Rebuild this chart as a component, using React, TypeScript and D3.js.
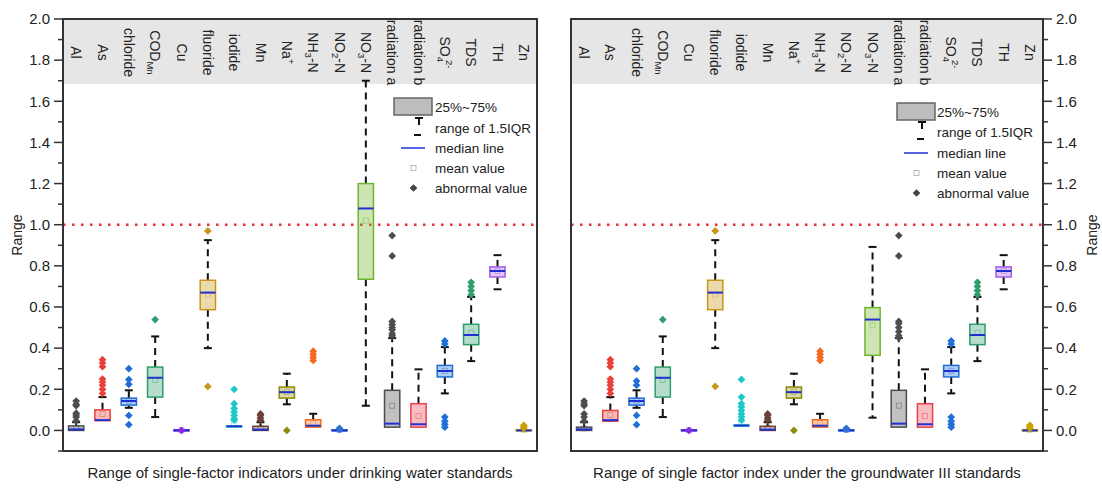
import React from 'react';
import * as d3 from 'd3';

const categories = ['Al', 'As', 'chloride', 'COD_{Mn}', 'Cu', 'fluoride', 'iodide', 'Mn', 'Na^{+}', 'NH_{3}-N', 'NO_{2}-N', 'NO_{3}-N', 'radiation a', 'radiation b', 'SO_{4}^{2-}', 'TDS', 'TH', 'Zn'];
const seriesColors = ['#4d4d4d', '#e8413c', '#1f6fd6', '#2e9e6a', '#8a2be2', '#c9951a', '#1cc8c8', '#6b4038', '#8c8c0a', '#f26b1d', '#2f6fd0', '#6fb52c', '#4d4d4d', '#e8414f', '#1f6fd6', '#2e9e6a', '#a45ee5', '#c9a000'];
const majorTicks = [0, 0.2, 0.4, 0.6, 0.8, 1.0, 1.2, 1.4, 1.6, 1.8, 2.0];
const minorTicks = [-0.1, 0.1, 0.3, 0.5, 0.7, 0.9, 1.1, 1.3, 1.5, 1.7, 1.9];
const legendLabels = ['25%~75%', 'range of 1.5IQR', 'median line', 'mean value', 'abnormal value'];

// Drinking water standards (left panel)
const drinkQ1 = [0.0, 0.048, 0.123, 0.162, 0.0, 0.587, 0.019, 0.0, 0.157, 0.016, 0.0, 0.735, 0.016, 0.016, 0.26, 0.417, 0.746, 0.0];
const drinkMedian = [0.005, 0.05, 0.143, 0.256, 0.0, 0.67, 0.02, 0.004, 0.186, 0.023, 0.0, 1.079, 0.033, 0.03, 0.289, 0.464, 0.775, 0.0];
const drinkQ3 = [0.022, 0.1, 0.157, 0.308, 0.003, 0.73, 0.022, 0.02, 0.211, 0.052, 0.003, 1.2, 0.195, 0.13, 0.316, 0.516, 0.795, 0.003];
const drinkMean = [0.012, 0.08, 0.145, 0.245, 0.001, 0.66, 0.03, 0.012, 0.188, 0.035, 0.002, 1.02, 0.12, 0.07, 0.29, 0.475, 0.775, 0.002];
const drinkWhiskerLow = [0.0, 0.048, 0.11, 0.065, 0.0, 0.4, 0.019, 0.0, 0.127, 0.016, 0.0, 0.12, 0.016, 0.016, 0.18, 0.337, 0.686, 0.0];
const drinkWhiskerHigh = [0.04, 0.162, 0.195, 0.457, 0.003, 0.925, 0.022, 0.04, 0.276, 0.081, 0.003, 1.7, 0.449, 0.297, 0.405, 0.649, 0.852, 0.003];
const drinkOutliers = [
  [0.046, 0.065, 0.075, 0.084, 0.12, 0.127, 0.143],
  [0.18, 0.2, 0.22, 0.235, 0.25, 0.31, 0.328, 0.344],
  [0.028, 0.073, 0.224, 0.247, 0.3],
  [0.539],
  [0.0],
  [0.214, 0.97],
  [0.05, 0.057, 0.073, 0.09, 0.107, 0.13, 0.2],
  [0.05, 0.06, 0.073, 0.08],
  [0.0],
  [0.34, 0.355, 0.37, 0.385],
  [0.005, 0.01],
  [],
  [0.46, 0.47, 0.49, 0.5, 0.515, 0.53, 0.848, 0.947],
  [],
  [0.016, 0.03, 0.045, 0.065, 0.42, 0.435],
  [0.66, 0.68, 0.7, 0.72],
  [],
  [0.01, 0.018, 0.025],
];

// Groundwater III standards (right panel)
const gwQ1 = [0.0, 0.045, 0.123, 0.162, 0.0, 0.587, 0.022, 0.0, 0.157, 0.016, 0.0, 0.365, 0.016, 0.016, 0.26, 0.417, 0.746, 0.0];
const gwMedian = [0.005, 0.05, 0.143, 0.256, 0.0, 0.67, 0.024, 0.004, 0.186, 0.023, 0.0, 0.539, 0.033, 0.03, 0.289, 0.464, 0.775, 0.0];
const gwQ3 = [0.016, 0.097, 0.157, 0.308, 0.003, 0.73, 0.026, 0.02, 0.211, 0.052, 0.003, 0.597, 0.195, 0.13, 0.316, 0.516, 0.795, 0.003];
const gwMean = [0.01, 0.075, 0.145, 0.245, 0.001, 0.66, 0.035, 0.012, 0.188, 0.035, 0.002, 0.511, 0.12, 0.07, 0.29, 0.475, 0.775, 0.002];
const gwWhiskerLow = [0.0, 0.045, 0.11, 0.065, 0.0, 0.4, 0.022, 0.0, 0.127, 0.016, 0.0, 0.062, 0.016, 0.016, 0.18, 0.337, 0.686, 0.0];
const gwWhiskerHigh = [0.04, 0.162, 0.195, 0.457, 0.003, 0.925, 0.026, 0.04, 0.276, 0.081, 0.003, 0.892, 0.449, 0.297, 0.405, 0.649, 0.852, 0.003];
const gwOutliers = [
  [0.045, 0.065, 0.08, 0.12, 0.13, 0.143],
  [0.18, 0.2, 0.22, 0.235, 0.25, 0.31, 0.328, 0.344],
  [0.028, 0.073, 0.22, 0.24, 0.3],
  [0.539],
  [0.0],
  [0.214, 0.97],
  [0.05, 0.065, 0.08, 0.097, 0.115, 0.13, 0.162, 0.248],
  [0.05, 0.06, 0.073, 0.08],
  [0.0],
  [0.34, 0.355, 0.37, 0.385],
  [0.005, 0.01],
  [],
  [0.45, 0.46, 0.48, 0.5, 0.52, 0.53, 0.848, 0.947],
  [],
  [0.016, 0.03, 0.045, 0.065, 0.42, 0.435],
  [0.66, 0.68, 0.7, 0.72],
  [],
  [0.01, 0.018, 0.025],
];

const FONT = 'Liberation Sans, Arial, sans-serif';
const TOP = 19;
const BOTTOM = 451;

function renderLabel(label: string) {
  const parts = label.split(/(_\{[^}]*\}|\^\{[^}]*\})/).filter((p) => p.length > 0);
  const out: any[] = [];
  let shift = 0;
  parts.forEach((p, i) => {
    if (p.startsWith('_{')) {
      out.push(<tspan key={i} dy={4 - shift} fontSize={9.5}>{p.slice(2, -1)}</tspan>);
      shift = 4;
    } else if (p.startsWith('^{')) {
      const prevSub = i > 0 && parts[i - 1].startsWith('_{');
      out.push(<tspan key={i} dy={-5 - shift} dx={prevSub ? -2 : 0} fontSize={9.5}>{p.slice(2, -1)}</tspan>);
      shift = -5;
    } else {
      out.push(<tspan key={i} dy={-shift}>{p}</tspan>);
      shift = 0;
    }
  });
  return out;
}

function Panel(props: any) {
  const { left, right, q1, med, q3, mean, wLo, wHi, outliers, axisSide, title, legendX, legendTextX, legendRows } = props;
  const y = d3.scaleLinear().domain([-0.1, 2.0]).range([BOTTOM, TOP]);
  const x = d3.scaleBand().domain(categories).range([left, right]).padding(0);
  const bw = x.bandwidth();
  const boxW = bw * 0.58;
  const headerBottom = y(1.684);
  const diamond = d3.symbol().type(d3.symbolSquare).size(30)();
  const axisX = axisSide === 'left' ? left : right;
  const dir = axisSide === 'left' ? -1 : 1;

  return (
    <g>
      <rect x={left} y={TOP} width={right - left} height={headerBottom - TOP} fill="#e6e6e6" />
      {categories.map((c) => (
        <text key={c} transform={`translate(${(x(c) as number) + bw / 2},${(TOP + headerBottom) / 2 + 1}) rotate(90)`}
          textAnchor="middle" dominantBaseline="central" fontSize={14} fontFamily={FONT} fill="#222">
          {renderLabel(c)}
        </text>
      ))}
      <line x1={left} x2={right} y1={y(1.0)} y2={y(1.0)} stroke="#e8312f" strokeWidth={2.5} strokeDasharray="2.5,6.5" />
      {categories.map((c, i) => {
        const cx = (x(c) as number) + bw / 2;
        const col = seriesColors[i];
        return (
          <g key={c}>
            {wHi[i] - q3[i] > 0.004 && (
              <g>
                <line x1={cx} x2={cx} y1={y(q3[i])} y2={y(wHi[i])} stroke="#111" strokeWidth={2} strokeDasharray="7,5" />
                <line x1={cx - 4} x2={cx + 4} y1={y(wHi[i])} y2={y(wHi[i])} stroke="#111" strokeWidth={2} />
              </g>
            )}
            {q1[i] - wLo[i] > 0.004 && (
              <g>
                <line x1={cx} x2={cx} y1={y(q1[i])} y2={y(wLo[i])} stroke="#111" strokeWidth={2} strokeDasharray="7,5" />
                <line x1={cx - 4} x2={cx + 4} y1={y(wLo[i])} y2={y(wLo[i])} stroke="#111" strokeWidth={2} />
              </g>
            )}
            <rect x={cx - boxW / 2} y={y(q3[i])} width={boxW} height={Math.max(y(q1[i]) - y(q3[i]), 1)}
              fill={col} fillOpacity={0.35} stroke={col} strokeWidth={1.5} />
            <rect x={cx - 2.5} y={y(mean[i]) - 2.5} width={5} height={5} fill="none" stroke={col} strokeOpacity={0.5} strokeWidth={0.8} />
            <line x1={cx - boxW / 2} x2={cx + boxW / 2} y1={y(med[i])} y2={y(med[i])} stroke="#1f2fd0" strokeWidth={2} />
            {outliers[i].map((v: number, k: number) => (
              <path key={k} d={diamond as string} transform={`translate(${cx},${y(v)}) rotate(45)`} fill={col} />
            ))}
          </g>
        );
      })}
      <rect x={left} y={TOP} width={right - left} height={BOTTOM - TOP} fill="none" stroke="#333" strokeWidth={2} />
      {majorTicks.map((t) => (
        <g key={'M' + t}>
          <line x1={axisX} x2={axisX + dir * 9} y1={y(t)} y2={y(t)} stroke="#333" strokeWidth={1.5} />
          <text x={axisX + dir * 13} y={y(t)} dy="0.35em" textAnchor={axisSide === 'left' ? 'end' : 'start'}
            fontSize={15} fontFamily={FONT} fill="#222">{d3.format('.1f')(t)}</text>
        </g>
      ))}
      {minorTicks.map((t) => (
        <line key={'m' + t} x1={axisX} x2={axisX + dir * 5} y1={y(t)} y2={y(t)} stroke="#333" strokeWidth={1.5} />
      ))}
      <text transform={`translate(${axisSide === 'left' ? 17 : 1092},${(TOP + BOTTOM) / 2}) rotate(-90)`} textAnchor="middle"
        dy="0.35em" fontSize={14} fontFamily={FONT} fill="#222">Range</text>
      <text x={(left + right) / 2} y={478} textAnchor="middle" fontSize={15} fontFamily={FONT} fill="#222">{title}</text>
      <g>
        <rect x={legendX} y={legendRows[0] - 9} width={38} height={17} fill="#bdbdbd" stroke="#666" strokeWidth={1.5} />
        <line x1={legendX + 25} x2={legendX + 25} y1={legendRows[1] - 10} y2={legendRows[1] - 3} stroke="#111" strokeWidth={2} />
        <line x1={legendX + 21} x2={legendX + 29} y1={legendRows[1] - 10} y2={legendRows[1] - 10} stroke="#111" strokeWidth={2} />
        <line x1={legendX + 20} x2={legendX + 27} y1={legendRows[1] + 7} y2={legendRows[1] + 7} stroke="#111" strokeWidth={2} />
        <line x1={legendX + 7} x2={legendX + 31} y1={legendRows[2]} y2={legendRows[2]} stroke="#1f2fd0" strokeWidth={1.5} />
        <rect x={legendX + 17} y={legendRows[3] - 2.5} width={5} height={5} fill="none" stroke="#aaa" strokeWidth={0.8} />
        <path d={diamond as string} transform={`translate(${legendX + 19.5},${legendRows[4]}) rotate(45)`} fill="#444" />
        {legendLabels.map((l, i) => (
          <text key={l} x={legendTextX} y={legendRows[i]} dy="0.35em" fontSize={13.5} fontFamily={FONT} fill="#222">{l}</text>
        ))}
      </g>
    </g>
  );
}

export default function App() {
  return (
    <svg width={1102} height={488} style={{ position: 'absolute', left: 0, top: 0, background: '#fff' }}>
      <Panel left={63} right={537} q1={drinkQ1} med={drinkMedian} q3={drinkQ3} mean={drinkMean} wLo={drinkWhiskerLow}
        wHi={drinkWhiskerHigh} outliers={drinkOutliers} axisSide="left"
        title="Range of single-factor indicators under drinking water standards"
        legendX={394} legendTextX={435} legendRows={[107, 128, 148, 168, 188]} />
      <Panel left={571} right={1043} q1={gwQ1} med={gwMedian} q3={gwQ3} mean={gwMean} wLo={gwWhiskerLow}
        wHi={gwWhiskerHigh} outliers={gwOutliers} axisSide="right"
        title="Range of single factor index under the groundwater III standards"
        legendX={897} legendTextX={937} legendRows={[112, 132, 153, 173, 193]} />
    </svg>
  );
}
